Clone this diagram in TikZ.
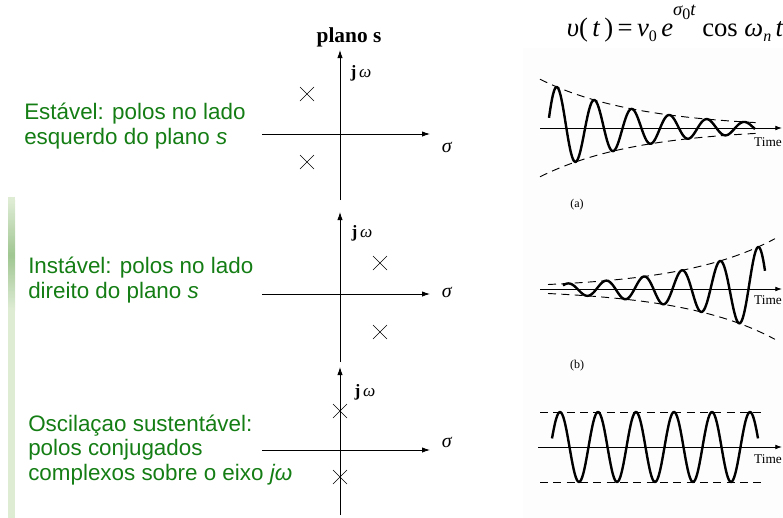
\documentclass[tikz,border=0pt]{standalone}
\usepackage{fontspec}
\setmainfont{Liberation Sans}
\newfontfamily\timesrm{Liberation Serif}
\usetikzlibrary{arrows.meta,shapes.misc}
\definecolor{textgreen}{RGB}{20,125,20}
\definecolor{barlight}{RGB}{222,236,212}
\definecolor{bardark}{RGB}{160,198,146}
\newcommand{\lowidx}[1]{\raisebox{-0.45ex}{\fontsize{12}{12}\selectfont #1}}

\begin{document}
\begin{tikzpicture}[
  x=0.75pt, y=-0.75pt,
  axisarrow/.style={-{Latex[length=6pt,width=4pt]}, line width=0.6pt},
  timearrow/.style={-{Latex[length=5pt,width=3.5pt]}, line width=0.6pt},
  pole/.style={cross out, draw, minimum size=10pt, inner sep=0pt, line width=0.5pt},
  polelabel/.style={font=\timesrm\fontsize{13}{13}\selectfont, inner sep=0pt},
  info/.style={text=textgreen, align=left, anchor=base west, inner sep=0pt,
    font=\fontsize{16.8}{18.3}\selectfont},
  timelabel/.style={font=\timesrm\fontsize{10}{10}\selectfont, inner sep=0pt},
  wave/.style={line width=1.8pt, line join=round},
  envelope/.style={dash pattern=on 6pt off 4pt, line width=0.7pt}
]
  \useasboundingbox (0,0) rectangle (783,518);

  % decoracao
  \fill[barlight] (8,197) rectangle (15,518);
  \shade[top color=barlight, bottom color=barlight, middle color=bardark]
    (8,200) rectangle (15,310);
  \fill[black!0.8] (523,48) rectangle (783,518);

  % textos
  \node[info] (estavel) at (24,144) {Estável: polos no lado\\esquerdo do plano \textit{s}};
  \node[info] (instavel) at (28,298) {Instável: polos no lado\\direito do plano \textit{s}};
  \node[info] (oscil) at (28,480) {Oscilaçao sustentável:\\polos conjugados\\complexos sobre o eixo \textit{jω}};

  % plano s -- estavel
  \node[font=\timesrm\bfseries\fontsize{16}{16}\selectfont] (plano) at (349,37) {plano s};
  \coordinate (s1) at (340,200);
  \coordinate (n1) at (340,50);
  \coordinate (w1) at (262,134);
  \coordinate (e1) at (430,134);
  \draw[axisarrow] (s1) -- (n1);
  \draw[axisarrow] (w1) -- (e1);
  \node[polelabel] (jw1) at (361,73) {\textbf{j}\,\textit{ω}};
  \node[polelabel, font=\timesrm\fontsize{15}{15}\selectfont] (sig1) at (447,147) {\textit{σ}};
  \node[pole] (p1a) at (307,94) {};
  \node[pole] (p1b) at (307,162) {};

  % instavel
  \coordinate (s2) at (340,362);
  \coordinate (n2) at (340,212);
  \coordinate (w2) at (262,294);
  \coordinate (e2) at (430,294);
  \draw[axisarrow] (s2) -- (n2);
  \draw[axisarrow] (w2) -- (e2);
  \node[polelabel] (jw2) at (362,233) {\textbf{j}\,\textit{ω}};
  \node[polelabel, font=\timesrm\fontsize{15}{15}\selectfont] (sig2) at (447,292) {\textit{σ}};
  \node[pole] (p2a) at (380,263) {};
  \node[pole] (p2b) at (380,332) {};

  % oscilacao
  \coordinate (s3) at (340,515);
  \coordinate (n3) at (340,367);
  \coordinate (w3) at (262,450);
  \coordinate (e3) at (430,450);
  \draw[axisarrow] (s3) -- (n3);
  \draw[axisarrow] (w3) -- (e3);
  \node[polelabel] (jw3) at (365,392) {\textbf{j}\,\textit{ω}};
  \node[polelabel, font=\timesrm\fontsize{15}{15}\selectfont] (sig3) at (447,442) {\textit{σ}};
  \node[pole] (p3a) at (340,411) {};
  \node[pole] (p3b) at (340,477) {};

  % v(t)
  \node[anchor=base, inner sep=0pt, font=\timesrm\fontsize{20}{20}\selectfont] (eq) at (675,36)
    {\itshape υ\upshape(\,\itshape t\upshape\,)\,=\,\itshape v\lowidx{\upshape 0}\,e\raisebox{1.7ex}{\fontsize{14}{14}\selectfont σ\lowidx{\upshape 0}t}\upshape\ cos\ \itshape ω\lowidx{n}\,t};

  % (a)
  \coordinate (ta0) at (540,128);
  \coordinate (ta1) at (782,128);
  \draw[timearrow] (ta0) -- (ta1);
  \node[timelabel] (timea) at (768,142) {Time};
  \draw[envelope] plot[domain=540:757, samples=40] (\x, {128-41*exp(-(\x-557)/98)});
  \draw[envelope] plot[domain=540:757, samples=40] (\x, {128+41*exp(-(\x-557)/98)});
  \draw[wave] plot[domain=549:755, samples=200, smooth] (\x, {128-41*exp(-(\x-557)/98)*cos((\x-557)/37.5*360)});
  \node[timelabel, font=\timesrm\fontsize{9}{9}\selectfont] (capa) at (577,205) {(a)};

  % (b)
  \coordinate (tb0) at (540,289);
  \coordinate (tb1) at (782,289);
  \draw[timearrow] (tb0) -- (tb1);
  \node[timelabel] (timeb) at (768,300) {Time};
  \draw[envelope] plot[domain=548:775, samples=40] (\x, {289-42*exp((\x-758)/94)});
  \draw[envelope] plot[domain=548:775, samples=40] (\x, {289+42*exp((\x-758)/94)});
  \draw[wave] plot[domain=563:765, samples=200, smooth] (\x, {289-42*exp((\x-758)/94)*cos((\x-758)/38*360)});
  \node[timelabel, font=\timesrm\fontsize{9}{9}\selectfont] (capb) at (577,366) {(b)};

  % (c)
  \coordinate (tc0) at (538,447);
  \coordinate (tc1) at (782,447);
  \coordinate (ua) at (540,412);
  \coordinate (ub) at (762,412);
  \coordinate (la) at (540,482);
  \coordinate (lb) at (762,482);
  \draw[timearrow] (tc0) -- (tc1);
  \node[timelabel] (timec) at (768,459) {Time};
  \draw[envelope] (ua) -- (ub);
  \draw[envelope] (la) -- (lb);
  \draw[wave] plot[domain=552:758, samples=200, smooth] (\x, {447-35*cos((\x-560)/38*360)});
\end{tikzpicture}
\end{document}
